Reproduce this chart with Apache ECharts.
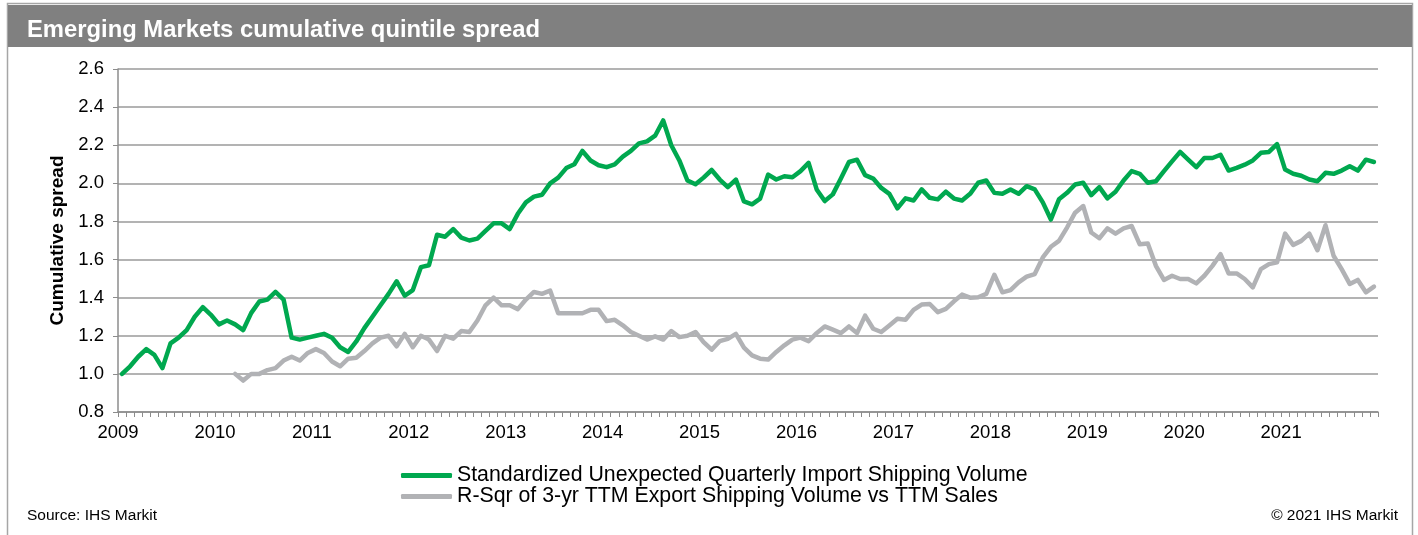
<!DOCTYPE html>
<html>
<head>
<meta charset="utf-8">
<script src="https://cdn.jsdelivr.net/npm/echarts@6/dist/echarts.min.js"></script>
<style>
  html, body { margin: 0; padding: 0; background: #fff; }
  #chart_main { width: 1418px; height: 535px; }
</style>
</head>
<body>
<div id="chart_main"></div>
<script>
// years shown on the x axis, one point per month
const years = [2009, 2010, 2011, 2012, 2013, 2014, 2015, 2016, 2017, 2018, 2019, 2020, 2021]
const months = ['01', '02', '03', '04', '05', '06', '07', '08', '09', '10', '11', '12']

// Standardized Unexpected Quarterly Import Shipping Volume (monthly, 2009-01 .. 2021-12)
const importVolume = [
  1.00, 1.04, 1.09, 1.13, 1.10, 1.03, 1.16, 1.19, 1.23, 1.30, 1.35, 1.31,
  1.26, 1.28, 1.26, 1.23, 1.32, 1.38, 1.39, 1.43, 1.39, 1.19, 1.18, 1.19,
  1.20, 1.21, 1.19, 1.14, 1.115, 1.17, 1.24, 1.30, 1.36, 1.42, 1.486, 1.41,
  1.44, 1.56, 1.57, 1.73, 1.72, 1.76, 1.715, 1.70, 1.71, 1.75, 1.79, 1.79,
  1.76, 1.84, 1.90, 1.93, 1.94, 2.00, 2.03, 2.08, 2.10, 2.17, 2.12, 2.095,
  2.085, 2.10, 2.14, 2.17, 2.21, 2.22, 2.25, 2.33, 2.20, 2.12, 2.015, 1.995,
  2.03, 2.07, 2.02, 1.98, 2.02, 1.905, 1.89, 1.92, 2.046, 2.02, 2.037, 2.032,
  2.064, 2.107, 1.968, 1.907, 1.942, 2.025, 2.112, 2.124, 2.043, 2.025, 1.976, 1.945,
  1.869, 1.921, 1.91, 1.968, 1.924, 1.916, 1.956, 1.92, 1.91, 1.945, 2.003, 2.015,
  1.95, 1.945, 1.968, 1.945, 1.985, 1.968, 1.90, 1.81, 1.916, 1.95, 1.994, 2.003,
  1.938, 1.98, 1.921, 1.956, 2.015, 2.064, 2.05, 2.003, 2.011, 2.064, 2.115, 2.165,
  2.125, 2.085, 2.133, 2.133, 2.15, 2.067, 2.081, 2.098, 2.12, 2.16, 2.165, 2.206,
  2.072, 2.05, 2.04, 2.02, 2.011, 2.055, 2.05, 2.067, 2.09, 2.067, 2.124, 2.112
]

// R-Sqr of 3-yr TTM Export Shipping Volume vs TTM Sales (starts 2010-03)
const exportRsq = [
  null, null, null, null, null, null, null, null, null, null, null, null,
  null, null, 1.00, 0.965, 1.00, 1.00, 1.02, 1.03, 1.07, 1.09, 1.07, 1.11,
  1.13, 1.11, 1.065, 1.04, 1.08, 1.085, 1.12, 1.16, 1.19, 1.20, 1.145, 1.21,
  1.14, 1.20, 1.18, 1.12, 1.20, 1.185, 1.225, 1.22, 1.28, 1.36, 1.40, 1.36,
  1.36, 1.34, 1.39, 1.43, 1.42, 1.437, 1.318, 1.318, 1.318, 1.318, 1.336, 1.336,
  1.277, 1.284, 1.255, 1.22, 1.20, 1.18, 1.197, 1.18, 1.225, 1.193, 1.20, 1.22,
  1.167, 1.127, 1.172, 1.184, 1.21, 1.138, 1.097, 1.08, 1.075, 1.115, 1.15, 1.18,
  1.19, 1.172, 1.214, 1.249, 1.232, 1.214, 1.249, 1.214, 1.306, 1.237, 1.22, 1.254,
  1.289, 1.284, 1.336, 1.364, 1.367, 1.324, 1.341, 1.381, 1.416, 1.40, 1.402, 1.42,
  1.52, 1.428, 1.44, 1.48, 1.51, 1.524, 1.611, 1.667, 1.698, 1.768, 1.846, 1.881,
  1.742, 1.712, 1.764, 1.736, 1.764, 1.776, 1.68, 1.684, 1.567, 1.493, 1.515, 1.498,
  1.498, 1.475, 1.515, 1.567, 1.628, 1.527, 1.527, 1.498, 1.454, 1.55, 1.576, 1.585,
  1.736, 1.677, 1.698, 1.736, 1.649, 1.78, 1.62, 1.55, 1.472, 1.493, 1.428, 1.458
]

const yTicks = { min: 0.8, max: 2.6, interval: 0.2 }

const categories = []
years.forEach(y => months.forEach(m => categories.push(y + '-' + m)))

const myChart = echarts.init(document.getElementById('chart_main'))
const font = "'Liberation Sans', Arial, sans-serif"

const option = {
  animation: false,
  textStyle: { fontFamily: font },
  graphic: [
    // outer frame
    {
      type: 'rect',
      shape: { x: 7.5, y: 3.5, width: 1405, height: 560 },
      style: { fill: 'none', stroke: '#a6a6a6', lineWidth: 1.5 },
      z: -10
    },
    // header band
    {
      type: 'rect',
      shape: { x: 8, y: 5, width: 1404, height: 42 },
      style: { fill: '#808080' },
      z: -5
    }
  ],
  title: [
    {
      text: 'Emerging Markets cumulative quintile spread',
      left: 22,
      top: 13,
      textStyle: { color: '#fff', fontSize: 23.8, fontWeight: 'bold' }
    },
    {
      text: 'Source: IHS Markit',
      left: 22,
      top: 503,
      textStyle: { color: '#000', fontSize: 15.5, fontWeight: 'normal' }
    },
    {
      text: '\u00a9 2021 IHS Markit',
      right: 15,
      top: 503,
      textStyle: { color: '#000', fontSize: 15.5, fontWeight: 'normal' }
    }
  ],
  legend: {
    orient: 'vertical',
    left: 396,
    top: 460,
    itemWidth: 51,
    itemHeight: 5,
    itemGap: 0,
    icon: 'roundRect',
    textStyle: { color: '#000', fontSize: 21.3, lineHeight: 21 },
    data: [
      'Standardized Unexpected Quarterly Import Shipping Volume',
      'R-Sqr of 3-yr TTM Export Shipping Volume vs TTM Sales'
    ]
  },
  grid: {
    left: 118,
    right: 40,
    top: 69,
    bottom: 123
  },
  xAxis: {
    type: 'category',
    boundaryGap: true,
    data: categories,
    axisLine: { lineStyle: { color: '#8c8c8c', width: 1.5 } },
    axisTick: { show: true, interval: 0, length: 5, lineStyle: { color: '#8c8c8c', width: 1 } },
    axisLabel: {
      interval: 0,
      formatter: function (v, idx) {
        return idx % 12 === 0 ? v.slice(0, 4) : ''
      },
      color: '#000',
      fontSize: 18.5,
      margin: 11,
      padding: [0, 8, 0, 0]
    },
    splitLine: { show: false }
  },
  yAxis: {
    type: 'value',
    min: yTicks.min,
    max: yTicks.max,
    interval: yTicks.interval,
    name: 'Cumulative spread',
    nameLocation: 'middle',
    nameGap: 51,
    nameTextStyle: { color: '#000', fontSize: 19, fontWeight: 'bold' },
    axisLine: { show: true, lineStyle: { color: '#8c8c8c', width: 1.5 } },
    axisTick: { show: true, length: 5, lineStyle: { color: '#8c8c8c' } },
    axisLabel: {
      color: '#000',
      fontSize: 18.5,
      margin: 14,
      formatter: v => v.toFixed(1)
    },
    splitLine: { lineStyle: { color: '#9a9a9a', width: 1.5 } }
  },
  series: [
    {
      name: 'Standardized Unexpected Quarterly Import Shipping Volume',
      type: 'line',
      data: importVolume,
      showSymbol: false,
      symbol: 'none',
      z: 3,
      lineStyle: { color: '#00a84f', width: 4.5, cap: 'round', join: 'round' },
      itemStyle: { color: '#00a84f' }
    },
    {
      name: 'R-Sqr of 3-yr TTM Export Shipping Volume vs TTM Sales',
      type: 'line',
      data: exportRsq,
      showSymbol: false,
      symbol: 'none',
      z: 2,
      lineStyle: { color: '#b1b2b5', width: 4.5, cap: 'round', join: 'round' },
      itemStyle: { color: '#b1b2b5' }
    }
  ]
}

myChart.setOption(option)
</script>
</body>
</html>
